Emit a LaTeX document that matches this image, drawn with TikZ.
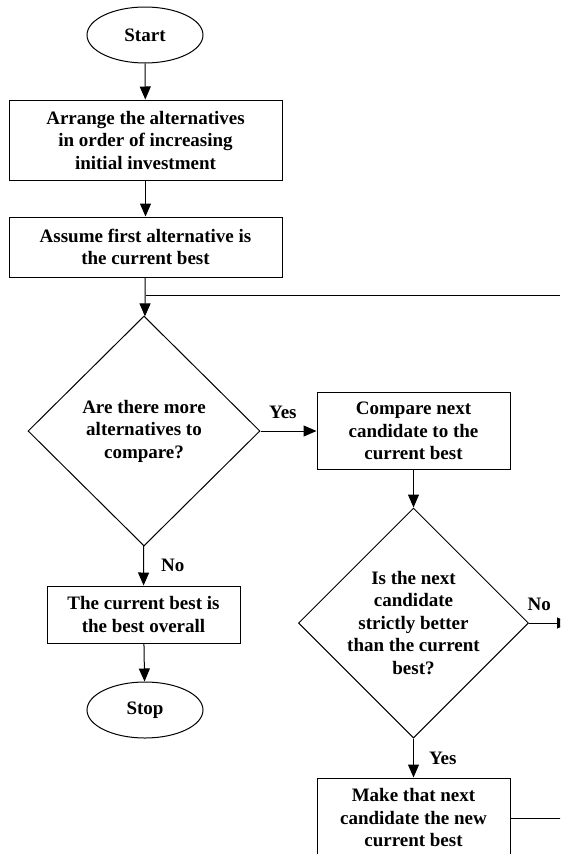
\documentclass[tikz,border=0pt]{standalone}
\usepackage{fontspec}
\setmainfont{Liberation Serif}
\usetikzlibrary{shapes.geometric,arrows.meta}

\begin{document}
\begin{tikzpicture}[x=1pt,y=-1pt,line width=1pt,
  every node/.style={font=\fontsize{19}{22.5}\selectfont\bfseries, align=center, inner sep=0pt},
  term/.style={draw, ellipse, minimum width=116pt, minimum height=56pt},
  stepbox/.style={draw, rectangle},
  decision/.style={draw, diamond, minimum width=232pt, minimum height=230pt},
  arr/.style={-{Triangle[width=11pt,length=13pt]}}]
  \useasboundingbox (0,0) rectangle (560,854);
  \clip (0,0) rectangle (560,854);

  % left column
  \node[term] (start) at (145,35) {Start};
  \node[stepbox, minimum width=273pt, minimum height=80pt] (arrange) at (145.5,140)
    {Arrange the alternatives\\in order of increasing\\initial investment};
  \node[stepbox, minimum width=273pt, minimum height=60pt] (assume) at (145.5,247)
    {Assume first alternative is\\the current best};
  \node[decision, label={[align=center]center:Are there more\\alternatives to\\compare?}] (more) at (144,431) {};
  \node[stepbox, minimum width=193pt, minimum height=57pt] (overall) at (143.5,614.5)
    {The current best is\\the best overall};
  \node[term] (stop) at (145,710) {Stop};

  % right column
  \node[stepbox, minimum width=193pt, minimum height=77pt] (compare) at (413.5,431)
    {Compare next\\candidate to the\\current best};
  \node[decision, minimum width=230pt,
    label={[align=center]center:Is the next\\candidate\\strictly better\\than the current\\best?}] (better) at (413.5,623) {};
  \node[stepbox, minimum width=193pt, minimum height=80pt] (newbest) at (413.5,818)
    {Make that next\\candidate the new\\current best};

  % loose ends at the edge
  \coordinate (loopin) at (560,295);
  \coordinate (noout) at (570,623);
  \coordinate (backout) at (568,818);

  \draw[arr] (start) -- (arrange);
  \draw[arr] (arrange) -- (assume);
  \draw[arr] (assume) -- (more);
  \draw (loopin) -- (loopin -| assume.south);
  \draw[arr] (more) -- node[above=12pt, pos=0.4] {Yes} (compare);
  \draw[arr] (more) -- node[right=17pt] {No} (overall);
  \draw[arr] (overall) -- (stop);
  \draw[arr] (compare) -- (better);
  \draw[arr] (better) -- node[above=12pt, pos=0.25] {No} (noout);
  \draw[arr] (better) -- node[right=15pt] {Yes} (newbest);
  \draw (newbest) -- (backout);
\end{tikzpicture}
\end{document}
